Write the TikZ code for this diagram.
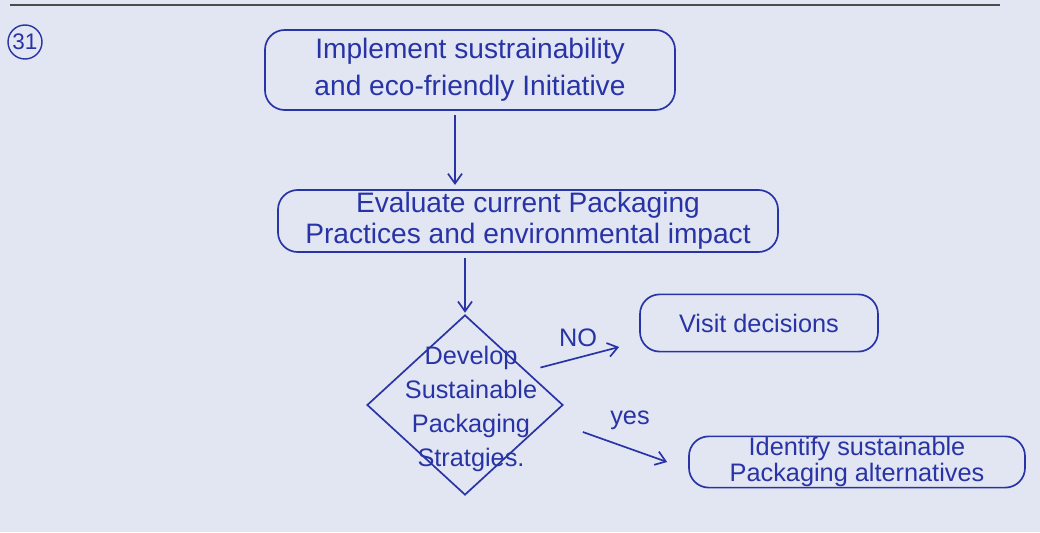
\documentclass[tikz,border=0pt]{standalone}
\usepackage{fontspec}
\setmainfont{Liberation Sans}
\usetikzlibrary{shapes.geometric,arrows.meta}
\definecolor{ink}{RGB}{40,52,165}
\definecolor{paper}{RGB}{226,229,242}

\begin{document}
\begin{tikzpicture}[
    every node/.style={text=ink, font=\fontsize{20}{26}\selectfont},
    box/.style={draw=ink, line width=1.2pt, rounded corners=14pt, align=center, inner sep=0pt},
    decision/.style={draw=ink, line width=1.2pt, diamond, minimum width=4.9cm, minimum height=4.5cm, inner sep=0pt},
    arrow/.style={draw=ink, line width=1.2pt, -{Straight Barb[length=7pt,width=10pt]}},
    small/.style={font=\fontsize{18}{24}\selectfont}
]
    \fill[paper] (0,0) rectangle (26,13.3);
    \useasboundingbox (0,0) rectangle (26,13.3);

    % Page header
    \draw[line width=1pt, black!70] (0.25,13.175) -- (25.0,13.175);
    \node[draw=ink, circle, line width=1pt, minimum size=0.85cm, inner sep=0pt, font=\fontsize{16}{18}\selectfont] (num) at (0.625,12.25) {31};

    % Boxes
    \node[box, minimum width=10.25cm, minimum height=2cm] (start) at (11.75,11.55) {Implement sustrainability\\and eco-friendly Initiative};
    \node[box, font=\fontsize{20}{22}\selectfont, minimum width=12.5cm, minimum height=1.55cm] (evaluate) at (13.2,7.775) {Evaluate current Packaging\\Practices and environmental impact};
    \node[decision, label={[small, align=center, xshift=0.15cm, yshift=-0.1cm]center:Develop\\Sustainable\\Packaging\\Stratgies.}] (develop) at (11.625,3.175) {};
    \node[box, small, minimum width=5.95cm, minimum height=1.43cm] (visit) at (18.975,5.225) {Visit decisions};
    \node[box, font=\fontsize{18}{19}\selectfont, minimum width=8.4cm, minimum height=1.28cm] (identify) at (21.425,1.75) {Identify sustainable\\Packaging alternatives};

    % Connectors
    \draw[arrow, shorten <=3pt, shorten >=3pt] ([xshift=-0.375cm]start.south) -- ([xshift=-0.375cm]start.south |- evaluate.north);
    \draw[arrow, shorten <=4pt, shorten >=1pt] (develop.north |- evaluate.south) -- (develop.north);
    \draw[arrow] ([xshift=0.65cm,yshift=-0.2cm]develop.north east) -- ([xshift=-0.5cm,yshift=-0.6cm]visit.west);
    \draw[arrow] ([xshift=0.475cm,yshift=-0.675cm]develop.east) -- ([xshift=-0.525cm]identify.west);

    % Branch labels
    \node[small] (no) at (14.45,4.85) {NO};
    \node[small] (yes) at (15.75,2.8) {yes};
\end{tikzpicture}
\end{document}
